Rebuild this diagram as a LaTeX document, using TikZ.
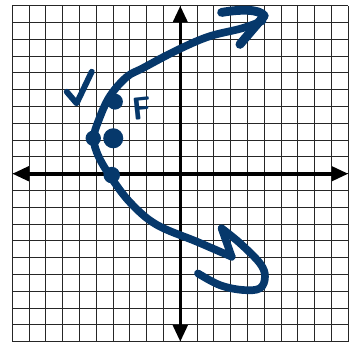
\documentclass[tikz,border=0pt]{standalone}
\usepackage{tikz}
\usetikzlibrary{arrows.meta,positioning}
\definecolor{InkBlue}{HTML}{06386B}

\begin{document}
\begin{tikzpicture}[
x=5mm,y=5mm,
gridline/.style={black!85,line width=0.8pt},
axis/.style={{Triangle[length=14pt,width=12pt]}-{Triangle[length=14pt,width=12pt]},line width=3pt},
pen/.style={InkBlue,line width=6.5pt,line cap=round,line join=round},
dot/.style={circle,fill=InkBlue,inner sep=0pt,minimum size=#1}
]
\useasboundingbox (-10.73,-10.1) rectangle (10.1,10.34);
\draw[gridline,step=1] (-10,-10) grid (10,10);
\draw[axis] (-10,0) -- (10,0);
\draw[axis] (0,-10) -- (0,10);
\draw[pen] plot[smooth,tension=0.6] coordinates {(3.06,-4.94) (1.0,-4.05) (-1.4,-3.04) (-2.9,-1.8) (-4.0,-0.4) (-4.85,1.0) (-5.15,2.1) (-4.85,3.2) (-4.2,4.6) (-3.2,5.75) (-2.2,6.3) (-0.3,7.3) (1.65,8.15) (3.65,8.65) (4.9,9.1)};
\draw[pen,line width=7.5pt] (2.46,9.6) .. controls (3.6,9.8) and (4.7,9.8) .. (5.0,9.4) -- (3.55,7.7);
\draw[pen] (3.06,-4.94) -- (2.46,-3.25);
\draw[pen] plot[smooth,tension=0.6] coordinates {(2.46,-3.25) (3.55,-4.13) (4.74,-5.33) (5.04,-6.13) (4.74,-6.82) (3.73,-6.92) (2.36,-6.63) (1.05,-5.93)};
\draw[pen,line width=5pt] (-6.76,4.88) -- (-6.17,4.19) -- (-5.27,6.07);
\node[dot=13.5pt] (upper) at (-3.89,4.29) {};
\node[dot=17pt] (focus) at (-3.99,2.11) {};
\node[dot=13pt] (vertex) at (-5.18,2.11) {};
\node[dot=14pt] (lower) at (-4.08,-0.08) {};
\node[InkBlue,inner sep=0pt,rotate=6,font=\fontsize{27}{27}\selectfont\sffamily\bfseries] (flabel) at (-2.3,3.88) {F};
\end{tikzpicture}
\end{document}
